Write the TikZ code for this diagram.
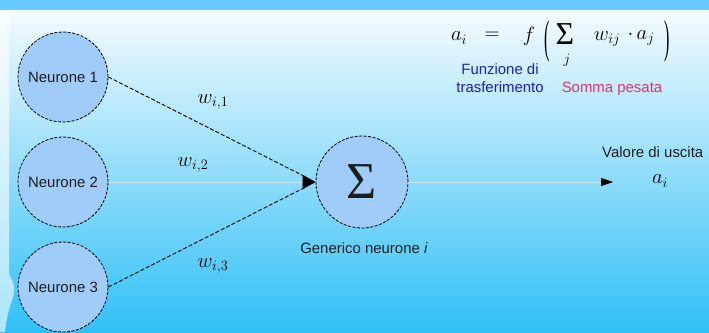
\documentclass[tikz,border=0pt]{standalone}
\usepackage{graphicx}
\usepackage{fontspec}
\setmainfont{Liberation Sans}
\newfontfamily\sigmafont{Liberation Serif}
\usetikzlibrary{arrows.meta}
\definecolor{band}{RGB}{102,204,255}
\definecolor{bgtop}{RGB}{244,251,254}
\definecolor{bgbot}{RGB}{48,192,247}
\definecolor{neufill}{RGB}{160,204,250}
\definecolor{funblue}{RGB}{30,30,200}
\definecolor{sumpink}{RGB}{228,50,110}
\definecolor{faint}{RGB}{196,226,236}
\definecolor{txt}{RGB}{30,30,30}
\begin{document}
\begin{tikzpicture}[x=1bp,y=-1bp,
  neuron/.style={circle, draw=black, line width=0.8bp, dash pattern=on 3bp off 1.5bp,
    fill=neufill, minimum size=90bp, inner sep=0pt, font=\fontsize{15}{18}\selectfont, text=txt},
  link/.style={draw=black, line width=0.9bp, dash pattern=on 4bp off 2bp},
  faintline/.style={draw=faint, line width=0.7bp},
  weight/.style={font=\fontsize{20.74}{24}\selectfont, inner sep=0pt},
  paren/.style={font=\sigmafont\fontsize{20}{20}\selectfont, inner sep=0pt},
  lbl/.style={font=\fontsize{15}{18}\selectfont, text=txt, inner sep=0pt}
]
\useasboundingbox (0,0) rectangle (709,332);
% background
\shade[top color=bgtop, bottom color=bgbot] (0,10) rectangle (709,332);
\fill[band] (0,0) rectangle (709,10);
\fill[white, opacity=0.6] (0,10) -- (9,10) -- (9,275) .. controls (16,285) and (15,292) .. (12,300) .. controls (8,312) and (6,322) .. (5,332) -- (0,332) -- cycle;

% neurons
\node[neuron] (n1) at (63,77) {Neurone 1};
\node[neuron] (n2) at (63,182) {Neurone 2};
\node[neuron] (n3) at (63,287) {Neurone 3};
\node[neuron, minimum size=92bp] (s) at (362,182) {\sigmafont\fontsize{52}{52}\selectfont Σ};

% connectors
\draw[faintline, -{Triangle[length=13bp,width=14bp,black]}] (n2.east) -- (s.west);
\draw[link, shorten >=12bp] (n1.east) -- (s.west);
\draw[link, shorten >=12bp] (n3.east) -- (s.west);
\coordinate (out) at (613,182);
\draw[faintline, -{Triangle[length=12bp,width=8bp,black]}] (s.east) -- (out);

% weights
\node[weight] (w1) at (213,102) {$w_{i,1}$};
\node[weight] (w2) at (193,165) {$w_{i,2}$};
\node[weight] (w3) at (213,266) {$w_{i,3}$};

% labels
\node[lbl] (gen) at (364,248) {Generico neurone \textit{i}};
\node[lbl, anchor=west] (val) at (602,152) {Valore di uscita};
\node[weight] (ai) at (660,181) {$a_i$};

% formula
\node[weight] (fa) at (459,38) {$a_i$};
\node[weight] (feq) at (492,36) {$=$};
\node[weight] (ff) at (529,36) {$f$};
\node[paren] (fl) at (547,41) {\scalebox{0.8}[2.3]{(}};
\node[inner sep=0pt, font=\sigmafont\fontsize{32}{32}\selectfont] (fsum) at (565,34) {Σ};
\node[inner sep=0pt, font=\fontsize{14.4}{14}\selectfont] (fj) at (567,60) {$j$};
\node[weight] (fw) at (607,39) {$w_{ij}$};
\node[weight] (fdot) at (641,38) {$\cdot\,a_j$};
\node[paren] (fr) at (667,41) {\scalebox{0.8}[2.3]{)}};
\node[lbl, text=funblue, align=center] (fun) at (500,78) {Funzione di\\trasferimento};
\node[lbl, text=sumpink] (som) at (612,89) {Somma pesata};
\end{tikzpicture}
\end{document}
